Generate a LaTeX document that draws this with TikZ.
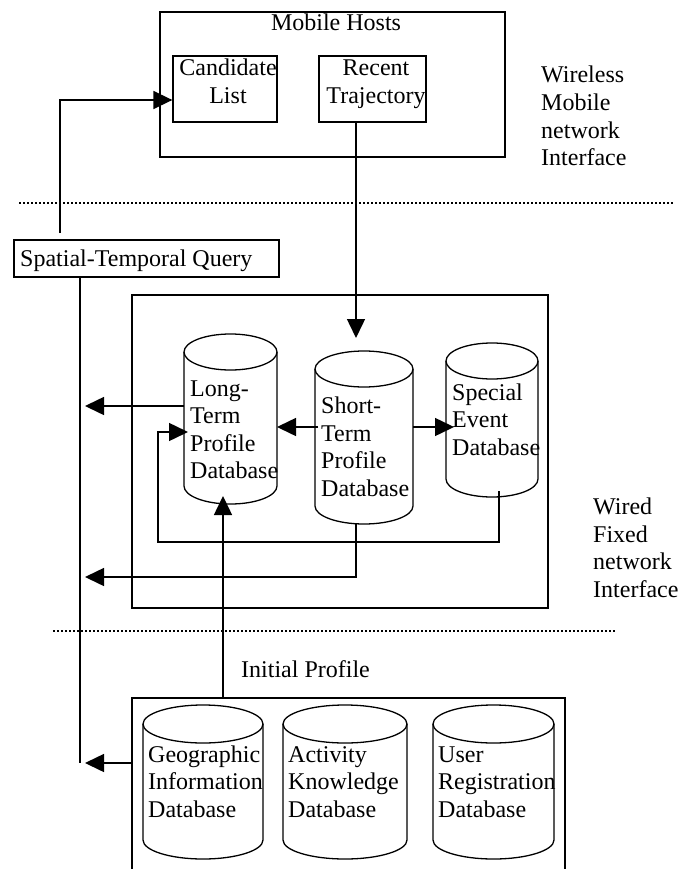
\documentclass[tikz,border=0pt]{standalone}
\usepackage{fontspec}
\setmainfont{Liberation Serif}
\usetikzlibrary{arrows.meta}

% database cylinder: name, center x, center y, width, height
\newcommand{\dbcyl}[5]{%
  \node (#1) at (#2,#3) [rectangle, minimum width=#4pt, minimum height=#5pt, inner sep=0pt, outer sep=0pt] {};
  \draw[dbline] ([yshift=-\DbRy pt]#1.north west) -- ([yshift=\DbRy pt]#1.south west)
    arc[start angle=180, end angle=360, x radius={#4pt/2}, y radius=\DbRy pt]
    -- ([yshift=-\DbRy pt]#1.north east)
    arc[start angle=0, end angle=180, x radius={#4pt/2}, y radius=\DbRy pt];
  \draw[dbline] ([yshift=-\DbRy pt]#1.north west)
    arc[start angle=180, end angle=360, x radius={#4pt/2}, y radius=\DbRy pt];
}

\begin{document}
\begin{tikzpicture}[x=1pt,y=-1pt,
    every node/.style={font=\fontsize{24}{27.5}\selectfont},
    box/.style={draw,rectangle,line width=1.3pt,inner sep=0pt},
    dbline/.style={line width=1.3pt},
    txt/.style={inner sep=0pt},
    conn/.style={->,line width=1.5pt},
    wire/.style={line width=1.5pt},
    sep/.style={line width=1.5pt,dash pattern=on 1.5pt off 2.5pt}]
    \useasboundingbox (0,0) rectangle (689,869);
    \begin{scope}[>={Triangle[length=19pt,width=18pt]}] %for filled arrow tips

      % defines
      \pgfmathsetmacro\BusX{80} % X of the query bus line
      \pgfmathsetmacro\OutX{85} % X of the arrow tips on the bus
      \pgfmathsetmacro\MidY{427} % Y of the arrows between the databases
      \pgfmathsetmacro\DbRy{18} % y radius of the cylinder caps

      % draw mobile hosts part
      \node (MH) at (332.5,84.5) [box, minimum width=345pt, minimum height=145pt] {};
      \node (MHtxt) at (336,31) [txt, anchor=base] {Mobile Hosts};
      \node (CL) at (225,89) [box, minimum width=104pt, minimum height=66pt] {};
      \node (CLtxt) at (228,103.5) [txt, anchor=base, align=center] {Candidate\\List};
      \node (RT) at (372.5,89) [box, minimum width=107pt, minimum height=66pt] {};
      \node (RTtxt) at (376,103.5) [txt, anchor=base, align=center] {Recent\\Trajectory};
      \node (WL) at (541,165.5) [txt, anchor=base west, align=left] {Wireless\\Mobile\\network\\Interface};

      % separator lines
      \coordinate (SepA) at (19,203);
      \coordinate (SepB) at (673,203);
      \coordinate (SepC) at (53,631);
      \coordinate (SepD) at (617,631);
      \draw[sep] (SepA) -- (SepB);
      \draw[sep] (SepC) -- (SepD);

      % query box and its line to the candidate list
      \node (Q) at (146.5,258.5) [box, minimum width=265pt, minimum height=37pt] {};
      \node (Qtxt) at (20,266) [txt, anchor=base west] {Spatial-Temporal Query};
      \coordinate (QL) at (60,233);
      \draw[conn] (QL) |- (CL.west |- 0,100);

      % wired part with the profile databases
      \node (MB) at (340,451.5) [box, minimum width=416pt, minimum height=313pt] {};
      \dbcyl{LPD}{230.5}{419}{93}{170}
      \node (LPDtxt) at (190,478.5) [txt, anchor=base west, align=left] {Long-\\Term\\Profile\\Database};
      \dbcyl{SPD}{364}{437.5}{98}{173}
      \node (SPDtxt) at (321,496) [txt, anchor=base west, align=left] {Short-\\Term\\Profile\\Database};
      \dbcyl{SE}{492}{420}{92}{154}
      \node (SEtxt) at (452,455) [txt, anchor=base west, align=left] {Special\\Event\\Database};
      \node (WD) at (593,597) [txt, anchor=base west, align=left] {Wired\\Fixed\\network\\Interface};

      % trajectory into the short-term profile
      \coordinate (SPDin) at (356,338);
      \draw[conn] (RT.south -| SPDin) -- (SPDin);

      % arrows between the databases
      \coordinate (Mid) at (0,\MidY);
      \draw[conn, shorten <=-3pt] (SPD.west |- Mid) -- (LPD.east |- Mid);
      \draw[conn, shorten >=-8pt] (SPD.east |- Mid) -- (SE.west |- Mid);
      \coordinate (FbA) at (499,542);
      \coordinate (FbB) at (158,432);
      \draw[conn, shorten >=-4pt] ([yshift=6pt]SE.south -| FbA) -- (FbA) -| (FbB) -- (LPD.west |- FbB);

      % outputs to the query bus
      \coordinate (OutA) at (\OutX,406);
      \coordinate (OutB) at (\OutX,577);
      \coordinate (OutC) at (\OutX,763);
      \draw[conn] (LPD.west |- OutA) -- (OutA);
      \draw[conn] (SPD.south -| SPDin) |- (OutB);

      % static databases
      \pgfmathsetmacro\DbRy{19}
      \node (BB) at (348.5,799) [box, minimum width=433pt, minimum height=202pt] {};
      \dbcyl{GEO}{203}{782}{120}{154}
      \node (GEOtxt) at (148,817) [txt, anchor=base west, align=left] {Geographic\\Information\\Database};
      \dbcyl{ACT}{345}{782}{124}{154}
      \node (ACTtxt) at (288,817) [txt, anchor=base west, align=left] {Activity\\Knowledge\\Database};
      \dbcyl{USR}{493.5}{782}{121}{154}
      \node (USRtxt) at (438,817) [txt, anchor=base west, align=left] {User\\Registration\\Database};
      \node (IP) at (241,677) [txt, anchor=base west] {Initial Profile};

      % initial profile and query bus
      \coordinate (IPx) at (223,0);
      \draw[conn, shorten >=-8pt] (BB.north -| IPx) -- (LPD.south -| IPx);
      \coordinate (BusEnd) at (\BusX,763);
      \draw[wire] (Q.south -| BusEnd) -- (BusEnd);
      \draw[conn] (BB.west |- OutC) -- (OutC);

    \end{scope}
  \end{tikzpicture}
\end{document}
